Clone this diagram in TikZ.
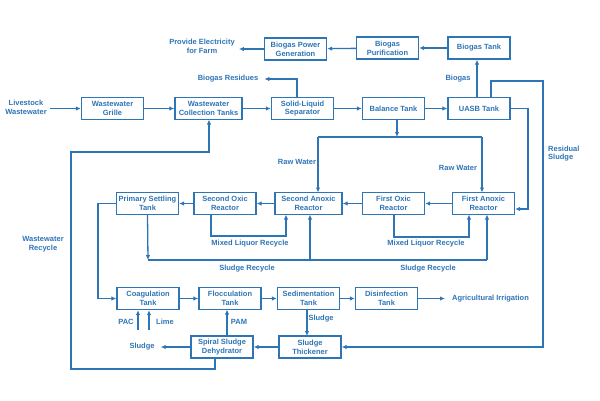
\documentclass[tikz,border=0pt]{standalone}
\usepackage{fontspec}
\setmainfont{Liberation Sans}
\usetikzlibrary{arrows.meta}
\definecolor{fb}{RGB}{46,117,182}
\begin{document}
\begin{tikzpicture}[x=1pt,y=-1pt,
  every node/.style={font=\fontsize{7.5}{8.8}\selectfont\bfseries,text=fb},
  box/.style={draw=fb,line width=1.3pt,minimum width=62pt,minimum height=22pt,inner sep=1pt,align=center},
  wbox/.style={box,minimum width=67pt},
  lbl/.style={inner sep=0pt,align=center},
  ln/.style={draw=fb,line width=1.3pt},
  arr/.style={ln,-{Latex[length=5pt,width=4.5pt]}}]
\useasboundingbox (0,0) rectangle (600,400);
\fill[white] (0,0) rectangle (600,400);
% boxes
\node[box] (pg) at (295.5,49) {Biogas Power\\Generation};
\node[box] (bp) at (387.5,48) {Biogas\\Purification};
\node[box] (bt) at (479,48) {Biogas Tank};
\node[box] (wg) at (112.5,108.5) {Wastewater\\Grille};
\node[wbox] (wct) at (208.5,108.5) {Wastewater\\Collection Tanks};
\node[box] (sls) at (302.5,108.5) {Solid-Liquid\\Separator};
\node[box] (bal) at (393.5,108.5) {Balance Tank};
\node[box] (uasb) at (479,108.5) {UASB Tank};
\node[box] (pst) at (147.5,203.5) {Primary Settling\\Tank};
\node[box] (sox) at (225,203.5) {Second Oxic\\Reactor};
\node[wbox] (san) at (308.5,203.5) {Second Anoxic\\Reactor};
\node[box] (fox) at (393.5,203.5) {First Oxic\\Reactor};
\node[box] (fan) at (483.5,203.5) {First Anoxic\\Reactor};
\node[box] (coag) at (148,298.5) {Coagulation\\Tank};
\node[box] (floc) at (230,298.5) {Flocculation\\Tank};
\node[box] (sed) at (308.5,298.5) {Sedimentation\\Tank};
\node[box] (dis) at (386.5,298.5) {Disinfection\\Tank};
\node[box] (thick) at (310,347) {Sludge\\Thickener};
\node[box] (spiral) at (222,347) {Spiral Sludge\\Dehydrator};
% labels
\node[lbl] (elec) at (202,46) {Provide Electricity\\for Farm};
\node[lbl] (res) at (228,79) {Biogas Residues};
\node[lbl] (live) at (26,107.5) {Livestock\\Wastewater};
\node[lbl] (biogas) at (458,79) {Biogas};
\node[lbl] (rw1) at (297,161.5) {Raw Water};
\node[lbl] (rw2) at (458,168) {Raw Water};
\node[lbl,anchor=west,align=left] (rs) at (548,153.5) {Residual\\Sludge};
\node[lbl] (wr) at (43,244) {Wastewater\\Recycle};
\node[lbl] (ml1) at (250,244) {Mixed Liquor Recycle};
\node[lbl] (ml2) at (426,244) {Mixed Liquor Recycle};
\node[lbl] (sr1) at (247,269) {Sludge Recycle};
\node[lbl] (sr2) at (428,269) {Sludge Recycle};
\node[lbl,anchor=west] (agri) at (452,298.5) {Agricultural Irrigation};
\node[lbl] (pac) at (126,322) {PAC};
\node[lbl] (lime) at (165,322) {Lime};
\node[lbl] (pam) at (239,322) {PAM};
\node[lbl] (sl1) at (321,319) {Sludge};
\node[lbl] (sl2) at (142,347) {Sludge};
% coordinates
\coordinate (lvs) at (50,108.5);
\coordinate (pacs) at (138,330);
\coordinate (limes) at (149,330);
\coordinate (bj) at (397,137);
\coordinate (ur) at (543,81);
\coordinate (srj) at (148,260);
% top row connectors
\draw[arr] (lvs) -- (wg.west);
\draw[arr] (wg) -- (wct);
\draw[arr] (wct) -- (sls);
\draw[arr] (sls) -- (bal);
\draw[arr] (bal) -- (uasb);
\draw[arr] ([xshift=-2pt]uasb.north) -- ([xshift=-2pt]bt.south);
\draw[arr] (bt) -- (bp);
\draw[arr] (bp) -- (pg);
\draw[arr] (pg.west) -- ([xshift=4pt]elec.east |- pg.west);
\draw[arr] ([xshift=-5.5pt]sls.north) |- ([xshift=6pt]res.east);
% uasb residual sludge
\draw[arr] ([xshift=12pt]uasb.north) |- (ur) |- (thick.east);
\draw[arr] (uasb.east) -| (528,150) |- ([yshift=-5.5pt]fan.east);
% balance split
\draw[arr] (bal.south -| bj) -- (bj);
\draw[ln] (318,137) -- (482,137);
\draw[arr] (318,137) -- (318,192.5);
\draw[arr] (482,137) -- (482,192.5);
% reactor row
\draw[arr] (fan) -- (fox);
\draw[arr] (fox) -- (san);
\draw[arr] (san) -- (sox);
\draw[arr] (sox) -- (pst);
% mixed liquor
\draw[arr] (fox.south -| 394,0) |- (469,237) -- (469,214.5);
\draw[arr] (sox.south -| 211,0) |- (286,236) -- (286,214.5);
% sludge recycle
\draw[arr] (pst.south) -- (srj);
\draw[ln] (srj) -- (487,260);
\draw[arr] (310,260) -- (310,214.5);
\draw[arr] (487,260) -- (487,214.5);
% to coagulation
\draw[arr] (pst.west) -| (98,280) |- (coag.west);
% bottom row
\draw[arr] (coag) -- (floc);
\draw[arr] (floc) -- (sed);
\draw[arr] (sed) -- (dis);
\draw[arr] (dis.east) -- ([xshift=-7pt]agri.west);
\draw[arr] (pacs) -- (pacs |- coag.south);
\draw[arr] (limes) -- (limes |- coag.south);
\draw[arr] (227,336) -- (227,309.5);
\draw[arr] (307,309.5) -- (307,336);
\draw[arr] (thick) -- (spiral);
\draw[arr] (spiral.west) -- ([xshift=6pt]sl2.east);
% wastewater recycle
\draw[arr] (215,358) |- (71,369) |- (209,152) -- (209,119.5);
\end{tikzpicture}
\end{document}
